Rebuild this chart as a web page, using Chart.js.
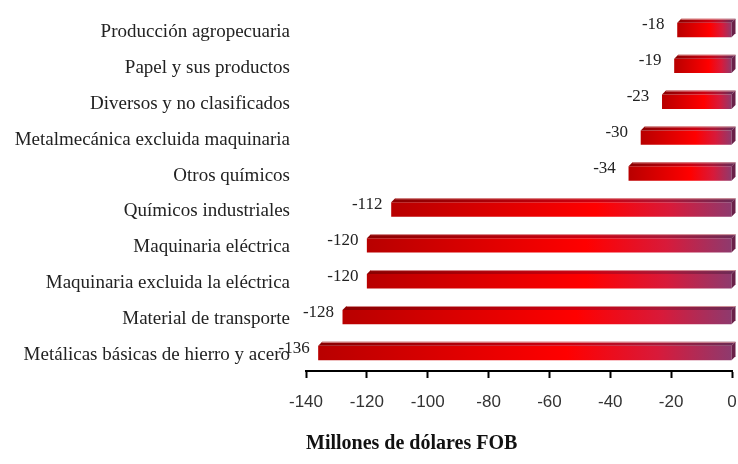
<!DOCTYPE html>
<html>
<head>
<meta charset="utf-8">
<script src="https://cdn.jsdelivr.net/npm/chart.js@4/dist/chart.umd.min.js"></script>
<style>
  html, body { margin: 0; padding: 0; background: #fff; }
  #wrap { width: 738px; height: 464px; }
</style>
</head>
<body>
<div id="wrap"><canvas id="chart"></canvas></div>
<script>
// data, top to bottom as in the picture
const categories = [
    'Producción agropecuaria',
    'Papel y sus productos',
    'Diversos y no clasificados',
    'Metalmecánica excluida maquinaria',
    'Otros químicos',
    'Químicos industriales',
    'Maquinaria eléctrica',
    'Maquinaria excluida la eléctrica',
    'Material de transporte',
    'Metálicas básicas de hierro y acero'
];
const values = [-18, -19, -23, -30, -34, -112, -120, -120, -128, -136];
const axisTicks = [-140, -120, -100, -80, -60, -40, -20, 0];
const axisTitle = 'Millones de dólares FOB';

const serif = "'Liberation Serif', 'DejaVu Serif', serif";
const sans = "'Liberation Sans', Arial, sans-serif";

// horizontal gradient along each bar: dark red -> bright red -> mauve
function barFill(ctx) {
    const chart = ctx.chart;
    if (!chart.chartArea || !chart.scales.x) return '#d00000';
    const sx = chart.scales.x;
    const x0 = sx.getPixelForValue(ctx.raw);
    const x1 = sx.getPixelForValue(0);
    const g = chart.ctx.createLinearGradient(x0, 0, x1, 0);
    g.addColorStop(0, '#b80000');
    g.addColorStop(0.6, '#ff0000');
    g.addColorStop(0.82, '#d81a3a');
    g.addColorStop(1, '#8e3a6e');
    return g;
}

// fake 3D top & side faces plus the value labels
const barExtras = {
    id: 'barExtras',
    afterDatasetsDraw(chart) {
        const c = chart.ctx;
        const meta = chart.getDatasetMeta(0);
        const d = 4;
        meta.data.forEach((bar, i) => {
            const left = Math.min(bar.x, bar.base);
            const right = Math.max(bar.x, bar.base);
            const top = bar.y - bar.height / 2;
            const bottom = bar.y + bar.height / 2;

            const g = c.createLinearGradient(left, 0, right, 0);
            g.addColorStop(0, '#8a0000');
            g.addColorStop(0.6, '#cc0010');
            g.addColorStop(0.82, '#a81838');
            g.addColorStop(1, '#6e2a55');
            c.save();
            c.beginPath();
            c.moveTo(left, top);
            c.lineTo(left + d, top - d);
            c.lineTo(right + d, top - d);
            c.lineTo(right, top);
            c.closePath();
            c.fillStyle = g;
            c.fill();
            // thin light edge on top
            c.strokeStyle = 'rgba(230,170,170,0.8)';
            c.lineWidth = 1;
            c.beginPath();
            c.moveTo(left + d, top - d + 0.5);
            c.lineTo(right + d, top - d + 0.5);
            c.stroke();

            c.beginPath();
            c.moveTo(right, top);
            c.lineTo(right + d, top - d);
            c.lineTo(right + d, bottom - d);
            c.lineTo(right, bottom);
            c.closePath();
            c.fillStyle = '#6a2048';
            c.fill();

            c.font = '17px ' + serif;
            c.fillStyle = '#222';
            c.textAlign = 'center';
            c.textBaseline = 'middle';
            c.fillText(String(values[i]), left - 24, bar.y - 5);
            c.restore();
        });
    }
};

new Chart(document.getElementById('chart'), {
    type: 'bar',
    data: {
        labels: categories,
        datasets: [{
            data: values,
            backgroundColor: barFill,
            borderWidth: 0,
            categoryPercentage: 1,
            barPercentage: 0.4
        }]
    },
    options: {
        indexAxis: 'y',
        responsive: true,
        maintainAspectRatio: false,
        animation: false,
        layout: { padding: { top: 12, right: 6, left: 0, bottom: 0 } },
        plugins: {
            legend: { display: false },
            tooltip: { enabled: false }
        },
        scales: {
            y: {
                grid: { display: false, drawTicks: false },
                border: { display: false },
                ticks: {
                    font: { family: serif, size: 19 },
                    color: '#222',
                    padding: 16,
                    labelOffset: 2
                },
                afterFit(scale) {
                    scale.width = 306;
                    scale.paddingTop = 0;
                    scale.paddingBottom = 0;
                }
            },
            x: {
                min: -140,
                max: 0,
                afterBuildTicks(scale) {
                    scale.ticks = axisTicks.map(v => ({ value: v }));
                },
                grid: {
                    drawOnChartArea: false,
                    drawTicks: true,
                    tickLength: 7,
                    tickWidth: 2,
                    color: '#000'
                },
                border: { display: true, color: '#000', width: 2 },
                ticks: {
                    font: { family: sans, size: 17 },
                    color: '#333',
                    padding: 14
                },
                title: {
                    display: true,
                    align: 'start',
                    text: axisTitle,
                    font: { family: serif, size: 20, weight: 'bold' },
                    color: '#111',
                    padding: { top: 16, bottom: 8 }
                },
                afterFit(scale) {
                    scale.height = 93;
                    scale.paddingLeft = 0;
                    scale.paddingRight = 0;
                }
            }
        }
    },
    plugins: [barExtras]
});
</script>
</body>
</html>
